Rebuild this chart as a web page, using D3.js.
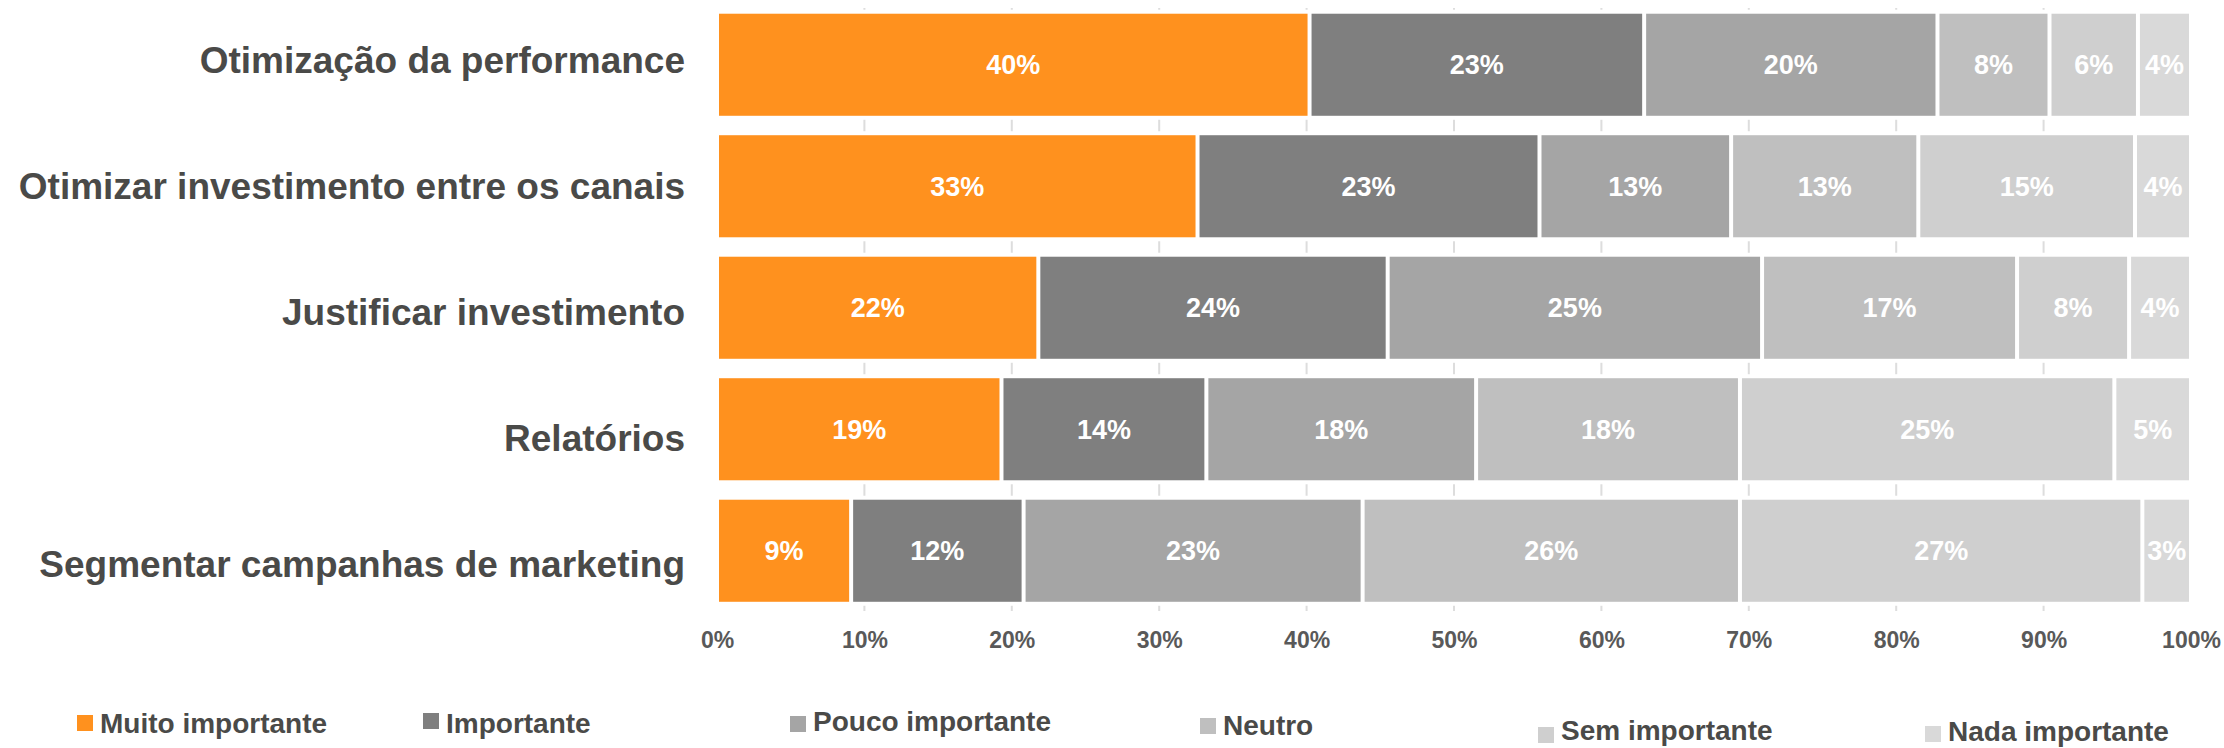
<!DOCTYPE html>
<html>
<head>
<meta charset="utf-8">
<script src="https://cdn.jsdelivr.net/npm/d3@7"></script>
<style>
  html, body { margin: 0; padding: 0; background: #ffffff; }
  svg { display: block; font-family: "Liberation Sans", Arial, Helvetica, sans-serif; font-weight: bold; }
</style>
</head>
<body>
<svg id="chart" width="2224" height="748"></svg>
<script>
// ---- Data ----
const categories = [
  "Otimização da performance",
  "Otimizar investimento entre os canais",
  "Justificar investimento",
  "Relatórios",
  "Segmentar campanhas de marketing"
];
const seriesNames = [
  "Muito importante",
  "Importante",
  "Pouco importante",
  "Neutro",
  "Sem importante",
  "Nada importante"
];
// percentage values per category, in series order
const muitoImportante = [40.2, 32.6, 21.8, 19.3, 9.1];
const importante      = [22.7, 23.2, 23.7, 13.9, 11.7];
const poucoImportante = [19.9, 13.0, 25.4, 18.3, 23.0];
const neutro          = [7.6, 12.7, 17.3, 17.9, 25.6];
const semImportante   = [6.0, 14.7, 7.6, 25.4, 27.3];
const nadaImportante  = [3.6, 3.8, 4.2, 5.2, 3.3];
const tickValues = [0, 10, 20, 30, 40, 50, 60, 70, 80, 90, 100];
const tickLabels = ["0%", "10%", "20%", "30%", "40%", "50%", "60%", "70%", "80%", "90%", "100%"];

const seriesValues = [muitoImportante, importante, poucoImportante, neutro, semImportante, nadaImportante];
const colors = ["#FF911E", "#7F7F7F", "#A5A5A5", "#BFBFBF", "#CFCFCF", "#D9D9D9"];

// ---- Layout ----
const svg = d3.select("#chart");
const x = d3.scaleLinear().domain([0, 100]).range([717, 2191]);
const y = d3.scaleBand().domain(categories).range([4, 611.5]).paddingInner(0.16).paddingOuter(0.08);
const yLabel = d3.scalePoint().domain(categories).range([60, 564]);
const gap = 4;
const textColor = "#4A4A48";

// table rows
const rows = categories.map((c, i) => {
  const row = { category: c };
  seriesNames.forEach((s, j) => row[s] = seriesValues[j][i]);
  return row;
});
const stack = d3.stack().keys(seriesNames)(rows);

// gridlines
svg.append("g").selectAll("line")
  .data(tickValues.filter(v => v > 0 && v < 100))
  .join("line")
  .attr("x1", d => x(d)).attr("x2", d => x(d))
  .attr("y1", 8).attr("y2", 611)
  .attr("stroke", "#DDDDDD").attr("stroke-width", 2);

// white halo behind each row
svg.append("g").selectAll("rect")
  .data(categories)
  .join("rect")
  .attr("x", x(0) - 4)
  .attr("width", x(100) - x(0) + 8)
  .attr("y", d => y(d) - 4)
  .attr("height", y.bandwidth() + 8)
  .attr("fill", "#ffffff");

// bars
const layers = svg.append("g").selectAll("g")
  .data(stack)
  .join("g")
  .attr("fill", (d, i) => colors[i]);

layers.selectAll("rect")
  .data(d => d)
  .join("rect")
  .attr("x", d => x(d[0]) + gap / 2)
  .attr("width", d => Math.max(0, x(d[1]) - x(d[0]) - gap))
  .attr("y", d => y(d.data.category))
  .attr("height", y.bandwidth());

// value labels
layers.selectAll("text")
  .data(d => d)
  .join("text")
  .attr("x", d => (x(d[0]) + x(d[1])) / 2)
  .attr("y", d => y(d.data.category) + y.bandwidth() / 2)
  .attr("dy", "0.36em")
  .attr("text-anchor", "middle")
  .attr("fill", "#ffffff")
  .attr("font-size", 27)
  .text(d => Math.round(d[1] - d[0]) + "%");

// category labels
svg.append("g").selectAll("text")
  .data(categories)
  .join("text")
  .attr("x", 685)
  .attr("y", d => yLabel(d))
  .attr("dy", "0.36em")
  .attr("text-anchor", "end")
  .attr("fill", textColor)
  .attr("font-size", 37)
  .text(d => d);

// x axis
const xAxis = d3.axisBottom(x)
  .tickValues(tickValues)
  .tickFormat((d, i) => tickLabels[i])
  .tickSize(0)
  .tickPadding(0);
const gx = svg.append("g").attr("transform", "translate(0,632)").call(xAxis);
gx.select(".domain").remove();
gx.selectAll("text")
  .attr("fill", "#595959")
  .attr("font-size", 23)
  .attr("font-family", "'Liberation Sans', Arial, sans-serif")
  .attr("font-weight", "bold");

// legend (irregular placement as in the original)
const legendX = [77, 423, 790, 1200, 1538, 1925];
const legendBase = [733, 733, 731, 735, 740, 741];
const legendBoxTop = [715, 713, 716, 718, 727, 726];
const legend = svg.append("g").selectAll("g")
  .data(seriesNames)
  .join("g");
legend.append("rect")
  .attr("x", (d, i) => legendX[i])
  .attr("y", (d, i) => legendBoxTop[i])
  .attr("width", 16).attr("height", 16)
  .attr("fill", (d, i) => colors[i]);
legend.append("text")
  .attr("x", (d, i) => legendX[i] + 23)
  .attr("y", (d, i) => legendBase[i])
  .attr("fill", textColor)
  .attr("font-size", 28)
  .text(d => d);
</script>
</body>
</html>
